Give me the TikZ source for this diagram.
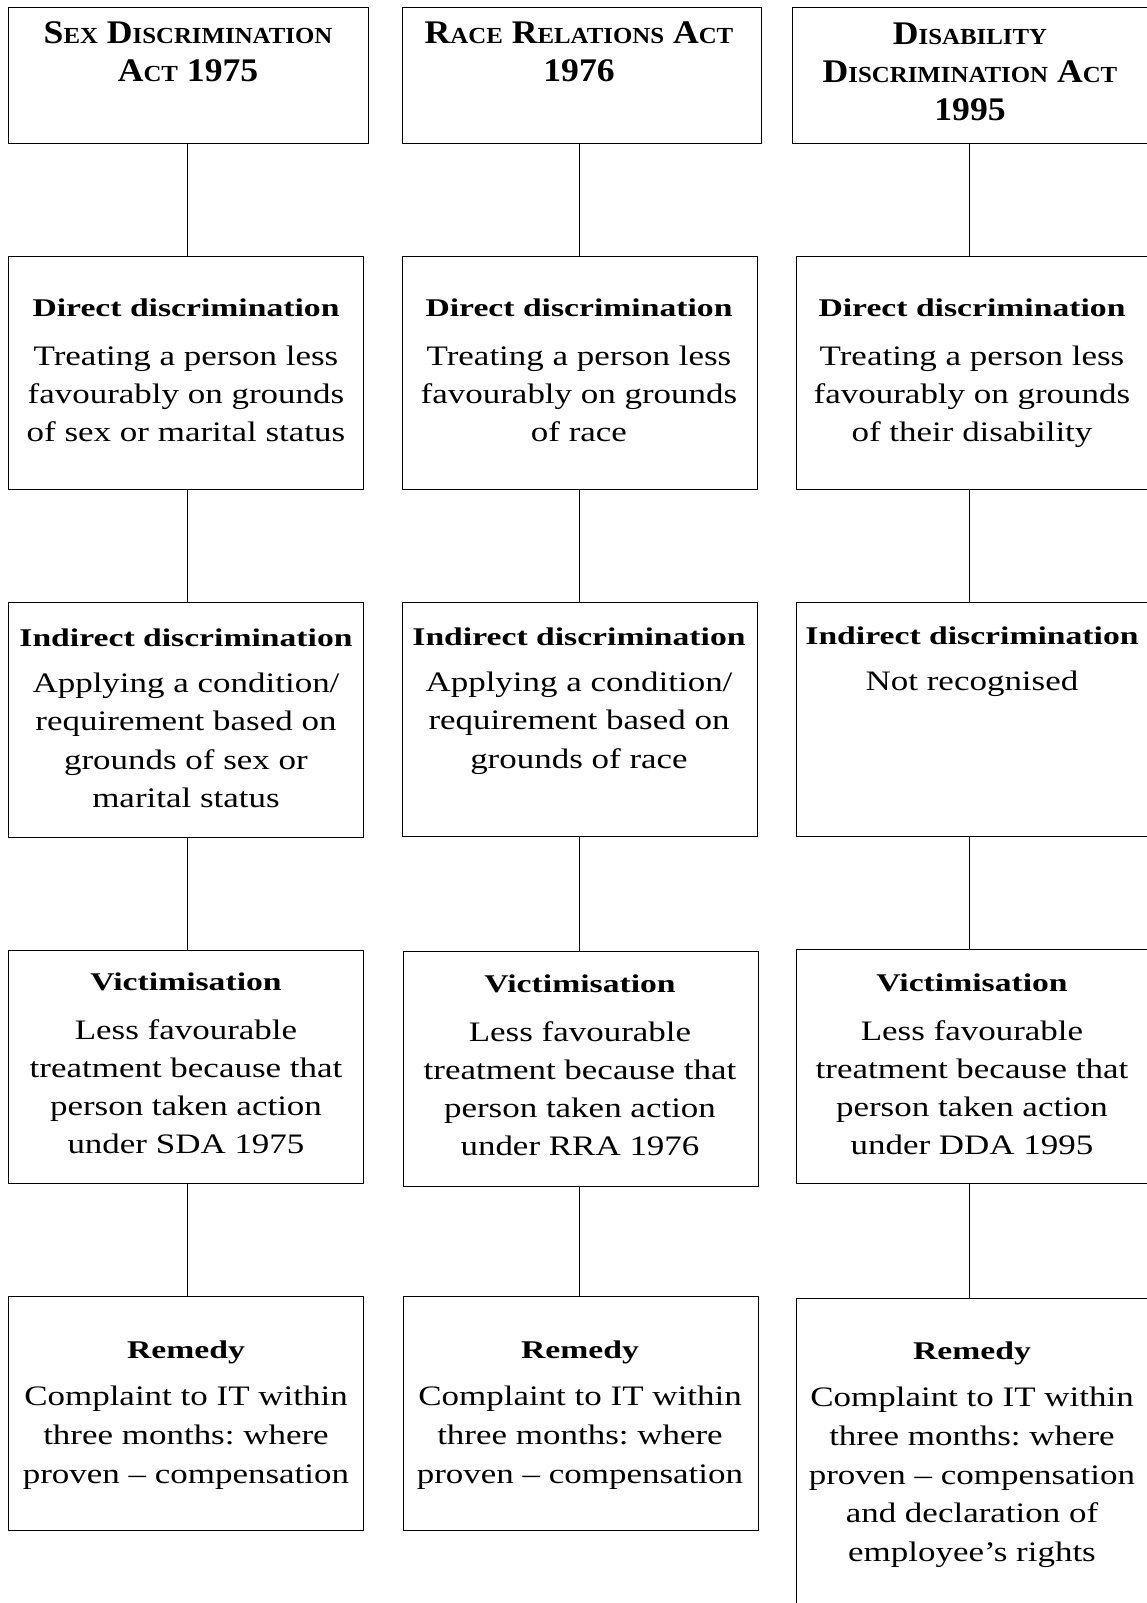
\documentclass[tikz,border=0pt]{standalone}
\usepackage{fontspec}
\setmainfont{Liberation Serif}[FakeStretch=1.08,Ligatures=TeX]
\newfontfamily\bodyfam{Liberation Serif}[FakeStretch=1.24,Ligatures=TeX]
\newfontfamily\hdfam{Liberation Serif}[FakeStretch=1.32,Ligatures=TeX]
\frenchspacing
\newcommand{\hdfont}{\hdfam\fontsize{25.5}{30}\selectfont\bfseries}
\newcommand{\cellt}[4]{\parbox[t]{420pt}{\centering{\hdfont #1\par}\vspace{#2}{\bodyfam\fontsize{28.2}{#3}\selectfont #4\par}}}
\newcommand{\headt}[1]{\parbox[t]{400pt}{\centering\fontsize{33}{38}\selectfont\bfseries #1\par}}
\newcommand{\fsc}[2]{#1{\fontsize{23}{38}\selectfont #2}}
\tikzset{
  frame/.style={draw=black, line width=1pt, inner sep=0pt, anchor=north west},
  txt/.style={anchor=base, inner sep=0pt},
  link/.style={draw=black, line width=1pt}
}
\begin{document}
\begin{tikzpicture}[x=1pt,y=1pt]
\useasboundingbox (0,0) rectangle (1147,-1603);
\clip (0,0) rectangle (1147,-1603);
% column line positions
\coordinate (c1) at (187,0);
\coordinate (c2) at (579,0);
\coordinate (c3) at (969,0);
% ---------- boxes ----------
\node[frame, minimum width=360pt, minimum height=136pt] (h1) at (8,-7) {};
\node[frame, minimum width=359pt, minimum height=136pt] (h2) at (402,-7) {};
\node[frame, minimum width=370pt, minimum height=136pt] (h3) at (792,-7) {};
\node[frame, minimum width=355pt, minimum height=233pt] (d1) at (8,-256) {};
\node[frame, minimum width=355pt, minimum height=233pt] (d2) at (402,-256) {};
\node[frame, minimum width=366pt, minimum height=233pt] (d3) at (796,-256) {};
\node[frame, minimum width=355pt, minimum height=235pt] (i1) at (8,-602) {};
\node[frame, minimum width=355pt, minimum height=234pt] (i2) at (402,-602) {};
\node[frame, minimum width=366pt, minimum height=234pt] (i3) at (796,-602) {};
\node[frame, minimum width=355pt, minimum height=233pt] (v1) at (8,-950) {};
\node[frame, minimum width=355pt, minimum height=235pt] (v2) at (403,-951) {};
\node[frame, minimum width=366pt, minimum height=234pt] (v3) at (796,-949) {};
\node[frame, minimum width=355pt, minimum height=234pt] (r1) at (8,-1296) {};
\node[frame, minimum width=355pt, minimum height=234pt] (r2) at (403,-1296) {};
\node[frame, minimum width=366pt, minimum height=340pt] (r3) at (796,-1298) {};
% ---------- connectors ----------
\foreach \a/\b/\c in {h1/d1/c1, d1/i1/c1, i1/v1/c1, v1/r1/c1,
                      h2/d2/c2, d2/i2/c2, i2/v2/c2, v2/r2/c2,
                      h3/d3/c3, d3/i3/c3, i3/v3/c3, v3/r3/c3}
  \draw[link] (\a.south -| \c) -- (\b.north -| \c);
% ---------- texts ----------
\node[txt] (th1) at (188,-44) {\headt{\fsc{S}{EX} \fsc{D}{ISCRIMINATION}\\\fsc{A}{CT} 1975}};
\node[txt] (th2) at (579,-44) {\headt{\fsc{R}{ACE} \fsc{R}{ELATIONS} \fsc{A}{CT}\\1976}};
\node[txt] (th3) at (970,-45) {\headt{\fsc{D}{ISABILITY}\\\fsc{D}{ISCRIMINATION} \fsc{A}{CT}\\1995}};

\node[txt] (td1) at (186,-316) {\cellt{Direct discrimination}{11pt}{38pt}{Treating a person less\\favourably on grounds\\of sex or marital status}};
\node[txt] (td2) at (579,-316) {\cellt{Direct discrimination}{11pt}{38pt}{Treating a person less\\favourably on grounds\\of race}};
\node[txt] (td3) at (972,-316) {\cellt{Direct discrimination}{11pt}{38pt}{Treating a person less\\favourably on grounds\\of their disability}};

\node[txt] (ti1) at (186,-646) {\cellt{Indirect discrimination}{7.5pt}{38.6pt}{Applying a condition/\\requirement based on\\grounds of sex or\\marital status}};
\node[txt] (ti2) at (579,-645) {\cellt{Indirect discrimination}{7.5pt}{38.6pt}{Applying a condition/\\requirement based on\\grounds of race}};
\node[txt] (ti3) at (972,-644) {\cellt{Indirect discrimination}{7.5pt}{38.6pt}{Not recognised}};

\node[txt] (tv1) at (186,-990) {\cellt{Victimisation}{11pt}{38.2pt}{Less favourable\\treatment because that\\person taken action\\under SDA 1975}};
\node[txt] (tv2) at (580,-992) {\cellt{Victimisation}{11pt}{38.2pt}{Less favourable\\treatment because that\\person taken action\\under RRA 1976}};
\node[txt] (tv3) at (972,-991) {\cellt{Victimisation}{11pt}{38.2pt}{Less favourable\\treatment because that\\person taken action\\under DDA 1995}};

\node[txt] (tr1) at (186,-1358) {\cellt{Remedy}{9pt}{38.9pt}{Complaint to IT within\\three months: where\\proven – compensation}};
\node[txt] (tr2) at (580,-1358) {\cellt{Remedy}{9pt}{38.9pt}{Complaint to IT within\\three months: where\\proven – compensation}};
\node[txt] (tr3) at (972,-1359) {\cellt{Remedy}{9pt}{38.7pt}{Complaint to IT within\\three months: where\\proven – compensation\\and declaration of\\employee’s rights}};
\end{tikzpicture}
\end{document}
